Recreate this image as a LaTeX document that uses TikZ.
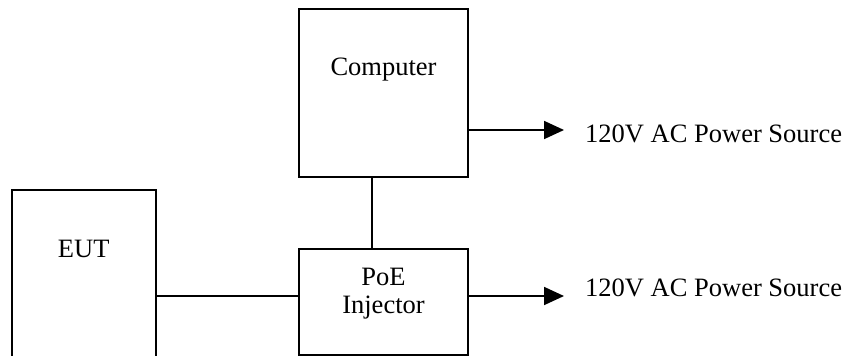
\documentclass[tikz,border=0pt]{standalone}
\usepackage{fontspec}
\setmainfont{Liberation Serif}
\usetikzlibrary{arrows.meta}
\begin{document}
\begin{tikzpicture}[x=1pt,y=-1pt,
  box/.style={draw,line width=1.8pt,inner sep=0pt,minimum width=#1},
  lbl/.style={font=\fontsize{26.5}{30}\selectfont,inner sep=0pt,anchor=base},
  wire/.style={line width=1.8pt},
  pwr/.style={line width=1.8pt,-{Triangle[length=20pt,width=18pt]}}]
\useasboundingbox (0,0) rectangle (846,356);
\clip (0,0) rectangle (846,356);
\node[box=168.5pt,minimum height=168pt] (comp) at (383.5,93) {};
\node[box=168.5pt,minimum height=106pt] (poe) at (383.5,302) {};
\node[box=144pt,minimum height=190pt] (eut) at (83.7,285) {};
\node[lbl] (tcomp) at (383.5,75) {Computer};
\node[lbl] (teut) at (83.7,257) {EUT};
\node[lbl] (tpoe) at (383.5,285) {PoE};
\node[lbl] (tinj) at (383.5,313) {Injector};
\node[lbl,anchor=base west] (p1) at (585,142) {120V AC Power Source};
\node[lbl,anchor=base west] (p2) at (585,296) {120V AC Power Source};
\coordinate (a1) at (564,130);
\coordinate (a2) at (564,296);
\coordinate (vx) at (372,0);
\draw[pwr] (comp.east |- a1) -- (a1);
\draw[pwr] (poe.east |- a2) -- (a2);
\draw[wire] (comp.south -| vx) -- (poe.north -| vx);
\draw[wire] (eut.east |- a2) -- (poe.west |- a2);
\end{tikzpicture}
\end{document}
